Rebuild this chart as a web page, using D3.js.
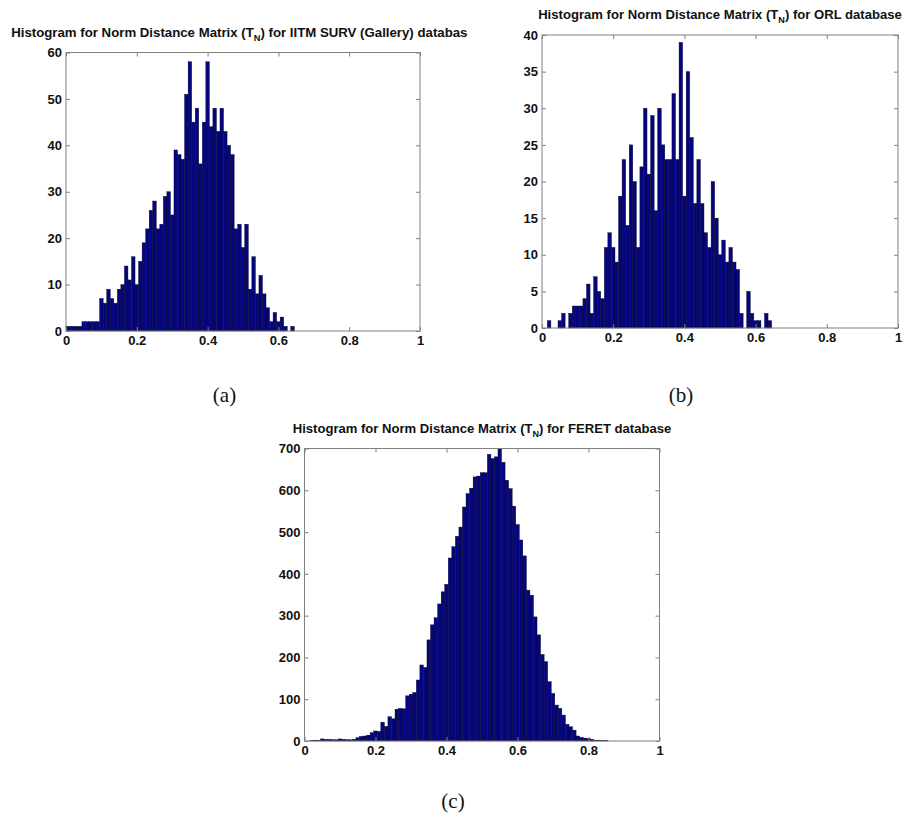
<!DOCTYPE html>
<html>
<head>
<meta charset="utf-8">
<script src="https://cdn.jsdelivr.net/npm/d3@7/dist/d3.min.js"></script>
<style>
  body { margin: 0; background: #fff; }
</style>
</head>
<body>
<svg width="904" height="822"></svg>
<script>
// histogram bins are centred on multiples of 0.01 (matlab hist style)
let binWidth = 0.01;
let xTicks = [0, 0.2, 0.4, 0.6, 0.8, 1];

// (a) IITM SURV (Gallery), bins 0.00 .. 0.64
let countsA = [1, 1, 1, 1, 1, 2, 2, 2, 2, 2,
    7, 6, 9, 7, 6, 9, 10, 14, 11, 16,
    10, 15, 19, 22, 26, 28, 22, 23, 29, 30,
    25, 39, 38, 37, 51, 58, 45, 48, 36, 45,
    58, 44, 48, 43, 48, 43, 40, 38, 22, 23,
    18, 23, 9, 16, 8, 12, 8, 5, 2, 4,
    2, 3, 1, 0, 1];
let yTicksA = [0, 10, 20, 30, 40, 50, 60];

// (b) ORL, bins 0.00 .. 0.64
let countsB = [0, 0, 1, 0, 0, 1, 2, 0, 2, 3,
    3, 3, 4, 6, 2, 7, 5, 4, 11, 13,
    11, 9, 18, 23, 14, 25, 20, 11, 22, 30,
    21, 29, 16, 30, 25, 23, 23, 32, 23, 39,
    18, 35, 26, 17, 23, 17, 13, 11, 20, 15,
    10, 12, 9, 11, 9, 8, 2, 0, 5, 2,
    1, 1, 0, 2, 1];
let yTicksB = [0, 5, 10, 15, 20, 25, 30, 35, 40];

// (c) FERET, bins 0.00 .. 0.85
let countsC = [0, 0, 1, 2, 2, 5, 4, 4, 3, 3,
    5, 4, 3, 3, 4, 8, 11, 12, 14, 20,
    24, 23, 45, 35, 58, 53, 76, 78, 77, 108,
    112, 116, 146, 182, 176, 242, 278, 295, 328, 357,
    375, 438, 465, 490, 512, 560, 592, 605, 632, 634,
    642, 642, 686, 676, 680, 700, 667, 624, 604, 562,
    518, 481, 443, 361, 349, 297, 254, 207, 190, 142,
    114, 86, 78, 62, 40, 34, 26, 12, 9, 7,
    6, 4, 2, 2, 1, 1];
let yTicksC = [0, 100, 200, 300, 400, 500, 600, 700];

let titleStart = "Histogram for Norm Distance Matrix (T";

let svg = d3.select("svg");

let fontSans = "'Liberation Sans', Arial, sans-serif";
let boxColor = "#808080";

let drawPanel = (p) => {
    let x = d3.scaleLinear().domain([0, 1]).range([p.left, p.right]);
    let y = d3.scaleLinear().domain([0, p.yTicks[p.yTicks.length - 1]]).range([p.bottom, p.top]);

    let g = svg.append("g");

    let bins = p.counts
        .map((c, i) => ({
            c: c,
            lo: Math.max(0, i * binWidth - binWidth / 2),
            hi: Math.min(1, i * binWidth + binWidth / 2)
        }))
        .filter(d => d.c > 0);

    g.selectAll("rect.bar")
        .data(bins)
        .enter().append("rect")
        .attr("class", "bar")
        .attr("x", d => x(d.lo))
        .attr("width", d => x(d.hi) - x(d.lo))
        .attr("y", d => y(d.c))
        .attr("height", d => y(0) - y(d.c))
        .attr("fill", "#06067c")
        .attr("stroke", "#000028")
        .attr("stroke-width", 0.4);

    // inward ticks on all four sides, labels only bottom/left
    let styleAxis = (sel) => {
        sel.select(".domain").remove();
        sel.selectAll(".tick line").attr("stroke", boxColor);
        sel.selectAll("text")
            .attr("font-family", fontSans)
            .attr("font-weight", "bold")
            .attr("font-size", 13)
            .attr("fill", "#111");
    };

    g.append("g")
        .attr("transform", `translate(0,${p.bottom})`)
        .call(d3.axisBottom(x).tickValues(xTicks).tickSizeInner(-4).tickSizeOuter(0)
            .tickPadding(5).tickFormat(d => String(d)))
        .call(styleAxis);
    g.append("g")
        .attr("transform", `translate(0,${p.top})`)
        .call(d3.axisTop(x).tickValues(xTicks).tickSizeInner(-4).tickSizeOuter(0).tickFormat(""))
        .call(styleAxis);
    g.append("g")
        .attr("transform", `translate(${p.left},0)`)
        .call(d3.axisLeft(y).tickValues(p.yTicks).tickSizeInner(-4).tickSizeOuter(0)
            .tickPadding(4).tickFormat(d => String(d)))
        .call(styleAxis);
    g.append("g")
        .attr("transform", `translate(${p.right},0)`)
        .call(d3.axisRight(y).tickValues(p.yTicks).tickSizeInner(-4).tickSizeOuter(0).tickFormat(""))
        .call(styleAxis);

    g.append("rect")
        .attr("x", p.left).attr("y", p.top)
        .attr("width", p.right - p.left).attr("height", p.bottom - p.top)
        .attr("fill", "none")
        .attr("stroke", boxColor)
        .attr("stroke-width", 1);

    // title, squeezed horizontally to the width it has in the figure
    let cx = (p.left + p.right) / 2;
    let tg = g.append("g");
    if (p.clipRight) {
        let id = "clip" + p.label.replace(/\W/g, "");
        svg.append("clipPath").attr("id", id)
            .append("rect").attr("x", 0).attr("y", 0).attr("width", p.clipRight).attr("height", 100);
        tg.attr("clip-path", `url(#${id})`);
    }
    let inner = tg.append("g");
    let title = inner.append("text")
        .attr("x", 0).attr("y", 0)
        .attr("text-anchor", "middle")
        .attr("font-family", fontSans)
        .attr("font-weight", "bold")
        .attr("font-size", 13)
        .attr("fill", "#111");
    title.append("tspan").text(titleStart);
    title.append("tspan").attr("font-size", 9).attr("dy", 4).text("N");
    title.append("tspan").attr("dy", -4).text(") for " + p.dbName);
    let w = title.node().getComputedTextLength();
    inner.attr("transform", `translate(${cx},${p.titleY}) scale(${p.titleWidth / w},1)`);

    svg.append("text")
        .attr("x", p.labelX).attr("y", p.labelY)
        .attr("text-anchor", "middle")
        .attr("font-family", "'Liberation Serif', 'Times New Roman', serif")
        .attr("font-size", 21)
        .attr("fill", "#111")
        .text(p.label);
};

drawPanel({
    counts: countsA, yTicks: yTicksA,
    left: 66, right: 420, top: 52.5, bottom: 331,
    dbName: "IITM SURV (Gallery) database",
    titleY: 36.5, titleWidth: 464, clipRight: 468,
    label: "(a)", labelX: 224.5, labelY: 402
});

drawPanel({
    counts: countsB, yTicks: yTicksB,
    left: 542, right: 898, top: 35, bottom: 328,
    dbName: "ORL database",
    titleY: 19.3, titleWidth: 364,
    label: "(b)", labelX: 681, labelY: 402
});

drawPanel({
    counts: countsC, yTicks: yTicksC,
    left: 304.5, right: 659.5, top: 448.5, bottom: 741,
    dbName: "FERET database",
    titleY: 432.5, titleWidth: 379,
    label: "(c)", labelX: 453, labelY: 808
});
</script>
</body>
</html>
